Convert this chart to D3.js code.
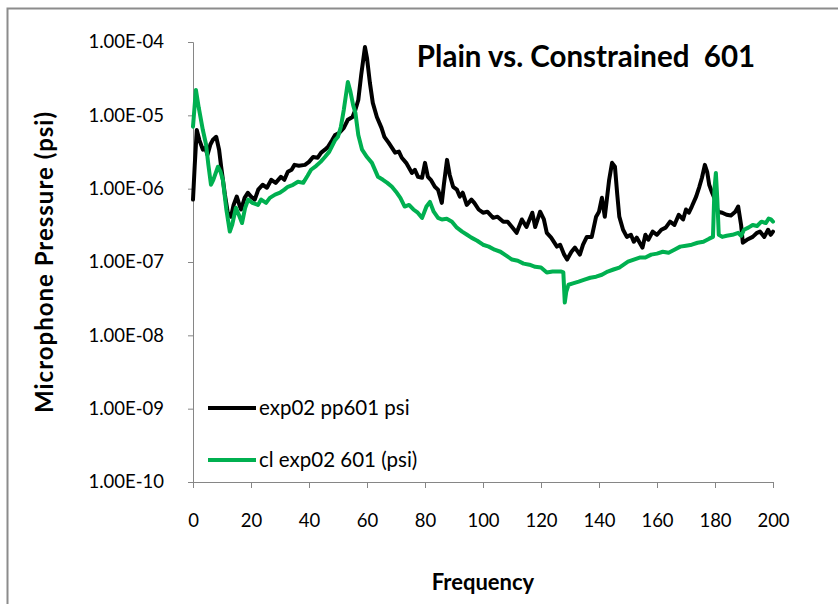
<!DOCTYPE html>
<html>
<head>
<meta charset="utf-8">
<script src="https://cdn.jsdelivr.net/npm/d3@7/dist/d3.min.js"></script>
<style>
  html, body { margin: 0; padding: 0; background: #fff; }
  svg { display: block; }
  text { font-family: Lato, "Open Sans", sans-serif; fill: #000; white-space: pre; }
</style>
</head>
<body>
<div id="chart"></div>
<script>
// Microphone pressure spectra: plain panel vs. constrained-layer panel (601)
const plainFreq = [0,0.6,1.3,2.2,3.4,4.2,5,6,6.8,8,9,9.7,11,12,13.1,14,15.1,16,16.6,17.8,18.9,20,21.3,22.5,24,25.5,27,28.5,30.3,31.5,32.7,34,35,36.5,38.6,40,41.4,43,44.2,45.5,46.5,48,49,50.5,52,53.4,55,56,57,58,59.3,60,61,62,63.4,65,66,67.5,69.7,71,72,73.5,75.5,76.5,77.6,79,80,81,82,83.4,84.5,85.8,86.5,87.6,88.5,89.7,91,92,93,94.4,96,97,98.5,100,101.5,103.5,105,107,108.5,110,111.6,113.4,115,117,118,119.7,121,122,123.5,125.5,126.6,128,129,130.5,131.7,133.4,134.5,135.8,137.5,139,140,141,142,143.5,144.5,145.5,146.3,147,148.3,149.6,151,152,153,155,156,157,158.5,160,161.5,163,164.5,166,167.5,169,170,171,172,173.5,174.6,175.5,176.5,177.3,178,179,180,181,182.5,184,185.5,187,188,189,189.6,191,193,194.5,195.5,197,198.3,199.2,200];
const plainPsi = [7.1e-7,2.1e-6,6.3e-6,4.6e-6,3.4e-6,3.6e-6,2.9e-6,4.0e-6,4.6e-6,5.1e-6,3.4e-6,2.0e-6,8.3e-7,4.7e-7,4.15e-7,6.0e-7,7.8e-7,6.0e-7,5.2e-7,7.5e-7,8.8e-7,7.8e-7,7.1e-7,9.7e-7,1.13e-6,1.03e-6,1.32e-6,1.2e-6,1.45e-6,1.32e-6,1.7e-6,1.81e-6,2.11e-6,2.05e-6,2.11e-6,2.32e-6,2.7e-6,2.64e-6,3.1e-6,3.4e-6,3.7e-6,4.6e-6,5.4e-6,5.8e-6,6.75e-6,8.7e-6,9.5e-6,1.19e-5,1.62e-5,3.56e-5,8.55e-5,6.05e-5,2.77e-5,1.48e-5,9.5e-6,6.75e-6,5.1e-6,4.2e-6,3.1e-6,3.2e-6,2.64e-6,2.25e-6,1.64e-6,1.81e-6,1.45e-6,1.41e-6,2.25e-6,1.45e-6,1.32e-6,1.06e-6,9.7e-7,6.4e-7,1.13e-6,2.47e-6,1.55e-6,1.06e-6,9.7e-7,7.8e-7,8.8e-7,6.0e-7,7.1e-7,6.4e-7,5.2e-7,4.7e-7,4.85e-7,4.0e-7,4.15e-7,3.55e-7,3.55e-7,3.0e-7,2.5e-7,3.8e-7,3.0e-7,4.7e-7,3.0e-7,4.85e-7,3.8e-7,2.5e-7,2.15e-7,1.62e-7,1.72e-7,1.26e-7,1.08e-7,1.38e-7,1.57e-7,1.26e-7,1.72e-7,2.2e-7,2.2e-7,4.15e-7,4.85e-7,7.5e-7,4.15e-7,1.32e-6,2.25e-6,1.99e-6,8.3e-7,4.15e-7,2.75e-7,2.2e-7,2.35e-7,1.89e-7,2.15e-7,1.57e-7,2.35e-7,2.01e-7,2.6e-7,2.35e-7,2.75e-7,2.94e-7,3.55e-7,3.2e-7,4.4e-7,3.8e-7,5.2e-7,4.7e-7,5.7e-7,7.8e-7,1.06e-6,1.41e-6,2.11e-6,1.7e-6,1.13e-6,8.8e-7,7.1e-7,4.85e-7,4.7e-7,4.4e-7,4.3e-7,4.85e-7,5.7e-7,3.2e-7,1.83e-7,2.01e-7,2.2e-7,2.5e-7,2.6e-7,2.2e-7,2.75e-7,2.35e-7,2.6e-7];

const constrainedFreq = [0,1,2,3.4,4.5,5.3,6.2,7,8.6,9.5,10.3,11.5,12.7,13.5,14.8,15.8,16.9,18,19,20.5,22.4,23.5,25.2,26.5,28.3,30,31.5,32.7,34.5,36.2,38,39.5,40.7,42.5,44,45.5,47,49,50,51,52,53.4,54.3,55.2,56,57,58.3,60,61.7,63.8,65.5,67,68.6,70,71.5,73,74.5,76,77.5,79,80.5,81.7,83,84.5,85.8,87.5,89.3,91,92.8,94.5,96,98,100,102,104,106,108,110,112,114,116,118,120,122,124,125.5,127,127.7,128.2,128.7,129.5,131,133,135,137,139,141,143,145,147,149,150,152,154,156,158,160,162,164,166,168,170,172,174,176,178,179.3,179.8,180.3,180.8,181.3,182.5,184,186,188,189,190,191.5,193,194.5,196,197.5,198.5,199.3,200];
const constrainedPsi = [7.0e-6,2.22e-5,1.26e-5,6.3e-6,4.0e-6,2.11e-6,1.13e-6,1.32e-6,1.99e-6,1.7e-6,1.32e-6,5.2e-7,2.6e-7,3.2e-7,5.5e-7,4.4e-7,3.4e-7,5.5e-7,7.1e-7,6.4e-7,6.0e-7,7.1e-7,6.4e-7,7.5e-7,8.3e-7,8.8e-7,9.7e-7,1.06e-6,1.13e-6,1.24e-6,1.2e-6,1.5e-6,1.81e-6,2.05e-6,2.32e-6,2.7e-6,3.2e-6,4.6e-6,5.1e-6,7.0e-6,1.19e-5,2.85e-5,2.09e-5,1.39e-5,1.08e-5,5.4e-6,3.4e-6,2.7e-6,2.25e-6,1.45e-6,1.32e-6,1.2e-6,1.06e-6,9.1e-7,7.5e-7,5.7e-7,6.0e-7,5.2e-7,4.7e-7,4.0e-7,5.7e-7,6.6e-7,4.85e-7,4.0e-7,3.8e-7,3.9e-7,3.55e-7,2.94e-7,2.6e-7,2.35e-7,2.15e-7,1.95e-7,1.72e-7,1.62e-7,1.47e-7,1.38e-7,1.22e-7,1.08e-7,1.04e-7,9.5e-8,9.2e-8,8.6e-8,8.4e-8,7.2e-8,7.4e-8,7.4e-8,7.4e-8,7.2e-8,2.8e-8,3.9e-8,4.9e-8,5.1e-8,5.4e-8,5.75e-8,6.1e-8,6.3e-8,6.7e-8,7.4e-8,7.9e-8,8.4e-8,9.5e-8,1.01e-7,1.08e-7,1.15e-7,1.15e-7,1.26e-7,1.3e-7,1.38e-7,1.34e-7,1.47e-7,1.62e-7,1.67e-7,1.72e-7,1.83e-7,1.89e-7,2.08e-7,2.2e-7,9.7e-7,1.64e-6,7.1e-7,2.35e-7,2.2e-7,2.28e-7,2.35e-7,2.5e-7,2.28e-7,2.75e-7,2.94e-7,3.2e-7,3.1e-7,3.55e-7,3.4e-7,3.9e-7,3.8e-7,3.55e-7];

const xTicks = [0,20,40,60,80,100,120,140,160,180,200];
const yTicks = [1e-10,1e-9,1e-8,1e-7,1e-6,1e-5,1e-4];

const seriesNames = ["exp02 pp601 psi", "cl exp02 601 (psi)"];
const seriesColors = ["#000000", "#00B050"];
const chartTitle = "Plain vs. Constrained  601";
const xTitle = "Frequency";
const yTitle = "Microphone Pressure (psi)";

const W = 838, H = 604;
const plot = { left: 193, right: 773, top: 42, bottom: 482 };

const svg = d3.select("#chart").append("svg")
  .attr("width", W).attr("height", H);

// outer chart frame
svg.append("rect")
  .attr("x", 7.5).attr("y", 8.5)
  .attr("width", W + 20).attr("height", H + 20)
  .attr("fill", "#fff")
  .attr("stroke", "#8c8c8c").attr("stroke-width", 2);

const x = d3.scaleLinear().domain([0, 200]).range([plot.left, plot.right]);
const y = d3.scaleLog().domain([1e-10, 1e-4]).range([plot.bottom, plot.top]);

const sci = d => {
  const e = Math.round(Math.log10(d));
  return "1.00E" + (e < 0 ? "-" : "+") + String(Math.abs(e)).padStart(2, "0");
};

// axes
const yAxis = svg.append("g")
  .attr("transform", `translate(${plot.left},0)`)
  .call(d3.axisLeft(y).tickValues(yTicks).tickFormat(sci).tickSize(5).tickPadding(24));
const xAxis = svg.append("g")
  .attr("transform", `translate(0,${plot.bottom})`)
  .call(d3.axisBottom(x).tickValues(xTicks).tickFormat(d3.format("d")).tickSize(6).tickPadding(26));

[yAxis, xAxis].forEach(g => {
  g.select(".domain").attr("stroke", "#868686").attr("stroke-width", 1);
  g.selectAll(".tick line").attr("stroke", "#868686");
  g.selectAll("text").attr("font-size", 18.5).attr("fill", "#000")
    .style("font-family", "Lato, 'Open Sans', sans-serif");
});
xAxis.select(".domain").attr("d", `M${plot.left - 4},0.5H${plot.right}`);

// series lines
const line = d3.line()
  .x(d => x(d[0]))
  .y(d => y(d[1]))
  .curve(d3.curveLinear);

const series = [
  d3.zip(plainFreq, plainPsi),
  d3.zip(constrainedFreq, constrainedPsi)
];

svg.append("g").selectAll("path")
  .data(series)
  .join("path")
  .attr("d", line)
  .attr("fill", "none")
  .attr("stroke", (d, i) => seriesColors[i])
  .attr("stroke-width", 4)
  .attr("stroke-linejoin", "round")
  .attr("stroke-linecap", "round");

// legend
const legendRows = [408, 460];
const legend = svg.append("g");
seriesNames.forEach((name, i) => {
  legend.append("line")
    .attr("x1", 208).attr("x2", 256)
    .attr("y1", legendRows[i]).attr("y2", legendRows[i])
    .attr("stroke", seriesColors[i]).attr("stroke-width", 4);
  legend.append("text")
    .attr("x", 259).attr("y", legendRows[i])
    .attr("dy", "0.35em")
    .attr("font-size", 20.5)
    .text(name);
});

// titles
svg.append("text")
  .attr("x", 586).attr("y", 57).attr("dy", "0.35em")
  .attr("text-anchor", "middle")
  .attr("font-size", 29.5).attr("font-weight", "bold")
  .text(chartTitle);

svg.append("text")
  .attr("x", 483).attr("y", 582).attr("dy", "0.35em")
  .attr("text-anchor", "middle")
  .attr("font-size", 22).attr("font-weight", "bold")
  .text(xTitle);

svg.append("text")
  .attr("transform", `translate(45,262) rotate(-90)`)
  .attr("dy", "0.35em")
  .attr("text-anchor", "middle")
  .attr("font-size", 24).attr("font-weight", "bold")
  .attr("letter-spacing", 1)
  .text(yTitle);
</script>
</body>
</html>
